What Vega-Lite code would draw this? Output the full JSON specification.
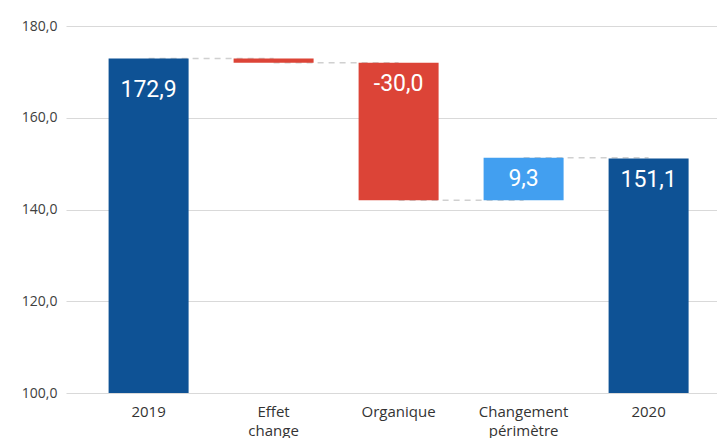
{
  "$schema": "https://vega.github.io/schema/vega-lite/v6.json",
  "autosize": "none",
  "width": 651,
  "height": 367,
  "padding": {"left": 66, "top": 26, "right": 0, "bottom": 45},
  "background": "white",
  "config": {
    "locale": {"number": {"decimal": ",", "thousands": " ", "grouping": [3], "currency": ["", " €"]}},
    "view": {"stroke": null}
  },
  "data": {
    "values": [
      {"cat": "2019", "next": "Effet|change", "start": 0, "end": 172.9, "kind": "total", "label": "172,9"},
      {"cat": "Effet|change", "next": "Organique", "start": 172.9, "end": 172.0, "kind": "neg", "label": ""},
      {"cat": "Organique", "next": "Changement|périmètre", "start": 172.0, "end": 142.0, "kind": "neg", "label": "-30,0"},
      {"cat": "Changement|périmètre", "next": "2020", "start": 142.0, "end": 151.3, "kind": "pos", "label": "9,3"},
      {"cat": "2020", "next": null, "start": 0, "end": 151.1, "kind": "total", "label": "151,1"}
    ]
  },
  "transform": [{"calculate": "max(datum.start, datum.end)", "as": "top"}],
  "encoding": {
    "x": {
      "field": "cat", "type": "nominal", "sort": null,
      "scale": {"paddingInner": 0.36, "paddingOuter": 0.284, "align": 0.6},
      "axis": {
        "title": null, "labelAngle": 0, "domain": false, "ticks": false,
        "labelExpr": "split(datum.label, '|')",
        "labelFont": "Open Sans", "labelFontSize": 15, "labelColor": "#333333",
        "labelPadding": 18, "labelLineHeight": 19, "labelBaseline": "middle"
      }
    }
  },
  "layer": [
    {
      "mark": {"type": "rule", "strokeDash": [6, 5], "color": "#d0d0d0", "strokeWidth": 1.5},
      "transform": [{"filter": "datum.next != null"}],
      "encoding": {
        "x2": {"field": "next"},
        "y": {"field": "end", "type": "quantitative",
          "scale": {"domain": [100, 180]},
          "axis": {
            "title": null, "tickCount": 5, "format": ".1f", "domain": false, "ticks": false,
            "gridColor": "#d9d9d9", "gridWidth": 1,
            "labelFont": "Open Sans", "labelFontSize": 14, "labelColor": "#404040", "labelPadding": 9
          }
        }
      }
    },
    {
      "mark": {"type": "bar", "clip": true},
      "encoding": {
        "y": {"field": "start", "type": "quantitative", "scale": {"domain": [100, 180]}},
        "y2": {"field": "end"},
        "color": {
          "field": "kind", "type": "nominal", "legend": null,
          "scale": {"domain": ["total", "neg", "pos"], "range": ["#0e5295", "#dc4437", "#429ff0"]}
        }
      }
    },
    {
      "transform": [{"filter": "datum.cat == '2019'"}],
      "mark": {"type": "text", "color": "white", "font": "Roboto", "fontSize": 23, "baseline": "middle", "dy": 31},
      "encoding": {
        "y": {"field": "top", "type": "quantitative"},
        "text": {"field": "label"}
      }
    },
    {
      "transform": [{"filter": "datum.cat != '2019'"}],
      "mark": {"type": "text", "color": "white", "font": "Roboto", "fontSize": 23, "baseline": "middle", "dy": 21},
      "encoding": {
        "y": {"field": "top", "type": "quantitative"},
        "text": {"field": "label"}
      }
    }
  ]
}
